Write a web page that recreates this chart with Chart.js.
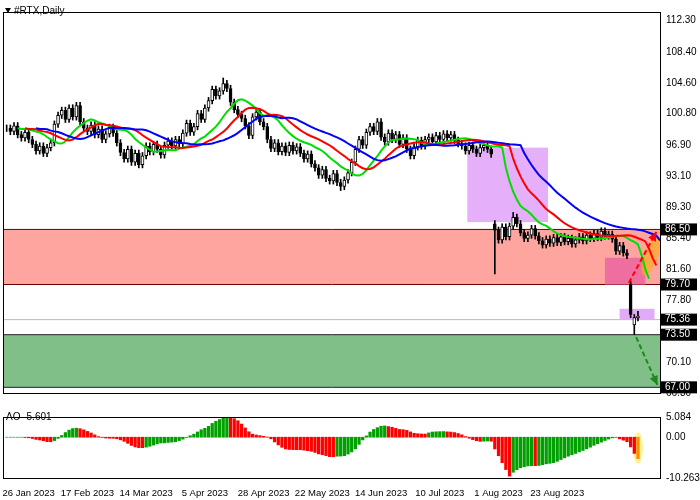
<!DOCTYPE html>
<html><head><meta charset="utf-8">
<script src="https://cdn.jsdelivr.net/npm/chart.js@4/dist/chart.umd.min.js"></script>
<style>body{margin:0;background:#fff;width:700px;height:500px;overflow:hidden;font-family:"Liberation Sans",Arial}
#m{position:absolute;left:0;top:0;width:700px;height:405px}#a{position:absolute;left:0;top:405px;width:700px;height:95px}</style>
</head><body>
<div id="m"><canvas id="c1"></canvas></div><div id="a"><canvas id="c2"></canvas></div>
<script>
const closes=[99.0,98.6,99.3,98.2,97.8,98.5,97.6,
97.0,96.2,96.8,95.9,96.6,97.2,
99.5,100.6,101.2,100.1,101.5,100.4,101.8,
99.8,99.0,98.6,99.4,98.2,98.9,
97.6,98.3,99.1,98.4,97.2,
96.0,95.2,96.4,94.8,95.9,94.5,95.6,96.8,
96.1,97.0,96.4,95.7,96.9,97.4,
96.8,97.6,97.1,98.4,99.6,98.5,
99.2,100.8,100.1,101.5,102.4,103.8,103.0,
103.6,104.5,103.9,102.2,101.3,
100.7,100.2,99.3,98.1,100.4,
101.0,99.8,99.2,97.6,96.5,97.2,
96.1,96.8,96.0,96.9,96.2,96.7,95.9,
95.2,95.8,94.6,94.1,93.2,93.9,92.8,92.5,
93.4,92.3,91.8,92.6,93.5,
94.8,96.4,97.6,96.9,98.5,99.2,98.6,
99.8,97.9,97.3,98.4,97.6,98.2,97.0,
97.8,96.4,95.6,96.7,97.5,96.8,97.6,
97.9,97.3,98.1,97.6,98.3,97.8,98.2,97.5,
97.1,96.8,96.2,96.9,96.4,95.9,96.6,96.9,
96.4,95.8,86.4,85.2,86.8,
85.6,86.9,88.0,87.2,86.1,85.4,85.8,
86.6,85.7,85.1,84.6,85.3,84.8,85.5,84.9,
85.6,85.0,85.4,84.7,85.2,85.6,85.1,85.8,
85.4,86.0,85.5,86.3,85.7,85.9,85.3,
83.8,84.5,83.6,83.3,
76.0,75.6,75.8];
const openOverrides={133:87.2,170:79.7,171:74.7};
const highOverrides={59:105.2,138:88.6,172:76.4};
const lowOverrides={133:81.0,91:91.3,171:73.5};
const dateLabels=["26 Jan 2023","17 Feb 2023","14 Mar 2023","5 Apr 2023","28 Apr 2023","22 May 2023","14 Jun 2023","10 Jul 2023","1 Aug 2023","23 Aug 2023"];
const datePos=[6,22,38,54,70,86,102,118,134,150];
const priceTicks=[112.30,108.40,104.60,100.80,96.90,93.10,89.30,85.40,81.60,77.80,70.10,66.30];
const levelBoxes=[86.50,79.70,75.36,73.50,67.00];
const aoTicks=[5.084,0,-10.263];
const aoLabel="AO -5.601";

const N=closes.length;
const O=[],H=[],L=[];
for(let i=0;i<N;i++){const o=openOverrides[i]!==undefined?openOverrides[i]:(i?closes[i-1]:closes[0]);O.push(o);
H.push(highOverrides[i]!==undefined?highOverrides[i]:Math.max(o,closes[i])+0.4);
L.push(lowOverrides[i]!==undefined?lowOverrides[i]:Math.min(o,closes[i])-0.4);}
const med=closes.map((c,i)=>(H[i]+L[i])/2);
function smma(n){const r=[];let p=null;for(let i=0;i<N;i++){if(i<n){const s=med.slice(0,i+1);p=s.reduce((a,b)=>a+b)/s.length;}else p=(p*(n-1)+med[i])/n;r.push(p);}return r;}
function sma(n,i){const s=med.slice(Math.max(0,i-n+1),i+1);return s.reduce((a,b)=>a+b)/s.length;}
const jaw=smma(13),teeth=smma(8),lips=smma(5);
const ao=med.map((_,i)=>sma(5,i)-sma(34,i));
const XMIN=-1,XMAX=178;
const wick=[],body=[],bodyCol=[];
for(let i=0;i<N;i++){wick.push({x:i,y:[L[i],H[i]]});body.push({x:i,y:[Math.min(O[i],closes[i]),Math.max(O[i],closes[i])]});bodyCol.push(closes[i]>=O[i]?'#fff':'#000');}
const line=(arr,sh,col)=>({type:'line',data:arr.map((v,i)=>({x:i+sh,y:v})),borderColor:col,borderWidth:2,pointRadius:0,order:0});
const yfont={family:'"Liberation Sans",Arial',size:10};
const xfont={family:'"Liberation Sans",Arial',size:9.5};

const frame={id:'frame',afterDraw(ch){const a=ch.chartArea,c=ch.ctx;c.save();c.strokeStyle='#000';c.lineWidth=1;c.strokeRect(a.left+.5,a.top+.5,a.width,a.height);c.restore();}};
const zones={id:'zones',beforeDatasetsDraw(ch){const c=ch.ctx,x=ch.scales.x,y=ch.scales.y,a=ch.chartArea;c.save();
 const rect=(x0,x1,p0,p1,f)=>{c.fillStyle=f;c.fillRect(x0,y.getPixelForValue(p1),x1-x0,y.getPixelForValue(p0)-y.getPixelForValue(p1));};
 rect(a.left,a.right,79.7,86.5,'rgb(255,165,160)');
 rect(a.left,a.right,67.0,73.5,'rgb(128,192,136)');
 c.strokeStyle='#600';c.lineWidth=1;[79.7,86.5].forEach(v=>{c.beginPath();c.moveTo(a.left,y.getPixelForValue(v));c.lineTo(a.right,y.getPixelForValue(v));c.stroke();});
 c.strokeStyle='#222';[67.0,73.5].forEach(v=>{c.beginPath();c.moveTo(a.left,y.getPixelForValue(v));c.lineTo(a.right,y.getPixelForValue(v));c.stroke();});
 c.strokeStyle='#bbb';c.beginPath();c.moveTo(a.left,y.getPixelForValue(75.36));c.lineTo(a.right,y.getPixelForValue(75.36));c.stroke();
 rect(x.getPixelForValue(125.5),x.getPixelForValue(147.5),87.4,96.6,'rgb(230,175,250)');
 rect(x.getPixelForValue(163),x.getPixelForValue(174),79.7,83.0,'rgb(238,110,160)');
 rect(x.getPixelForValue(167),x.getPixelForValue(176.5),75.4,76.7,'rgb(225,170,250)');
 c.fillStyle='rgba(255,170,40,0.75)';c.beginPath();c.ellipse(x.getPixelForValue(175.5),y.getPixelForValue(83.2),7,20,0.35,0,Math.PI*2);c.fill();
 c.restore();},
 afterDraw(ch){const c=ch.ctx,x=ch.scales.x,y=ch.scales.y,a=ch.chartArea;c.save();
 const arrow=(x0,p0,x1,p1,col)=>{const X0=x.getPixelForValue(x0),Y0=y.getPixelForValue(p0),X1=x.getPixelForValue(x1),Y1=y.getPixelForValue(p1);
  c.strokeStyle=col;c.fillStyle=col;c.lineWidth=2;c.setLineDash([5,3]);c.beginPath();c.moveTo(X0,Y0);c.lineTo(X1,Y1);c.stroke();c.setLineDash([]);
  const ang=Math.atan2(Y1-Y0,X1-X0);c.beginPath();c.moveTo(X1,Y1);c.lineTo(X1-10*Math.cos(ang-0.45),Y1-10*Math.sin(ang-0.45));c.lineTo(X1-10*Math.cos(ang+0.45),Y1-10*Math.sin(ang+0.45));c.closePath();c.fill();};
 arrow(169.5,79.9,177,86.2,'#f00');arrow(171.5,73.2,177.3,67.3,'#1a8a1a');
 c.font='10px "Liberation Sans",Arial';c.textBaseline='middle';
 levelBoxes.forEach(v=>{const py=y.getPixelForValue(v);c.fillStyle='#000';c.fillRect(a.right+1,py-6,36,12);c.fillStyle='#fff';c.fillText(v.toFixed(2),a.right+5,py);});
 c.fillStyle='#000';c.beginPath();c.moveTo(5,8);c.lineTo(11,8);c.lineTo(8,13);c.closePath();c.fill();
 c.fillText('#RTX,Daily',14,11);
 c.restore();}};

const yGrid={display:false,drawTicks:false,tickLength:0};
new Chart(document.getElementById('c1'),{type:'bar',data:{datasets:[
 line(jaw,8,'#0000ff'),line(teeth,5,'#ff0000'),line(lips,3,'#00dd00'),
 {data:wick,backgroundColor:'#000',barThickness:1,grouped:false,order:2},
 {data:body,backgroundColor:bodyCol,borderColor:'#000',borderWidth:1,borderSkipped:false,barThickness:3,grouped:false,order:1}
]},plugins:[zones,frame],options:{animation:false,responsive:true,maintainAspectRatio:false,
 layout:{padding:{left:3,top:3,bottom:0,right:0}},plugins:{legend:{display:false},tooltip:{enabled:false}},
 scales:{x:{type:'linear',offset:false,min:XMIN,max:XMAX,display:false},
 y:{position:'right',min:66.3,max:113.35,grid:yGrid,border:{display:false},afterFit(s){s.width=40;},
  afterBuildTicks(s){s.ticks=priceTicks.map(v=>({value:v}));},
  ticks:{font:yfont,color:'#000',padding:6,callback:v=>v.toFixed(2)}}}}});

const aoCol=ao.map((v,i)=>i===N-1?'#ff8c00':(i>0&&v<ao[i-1]?'#ff0000':'#00a000'));
const aoPlug={id:'aop',beforeDatasetsDraw(ch){const c=ch.ctx,x=ch.scales.x,y=ch.scales.y;c.save();c.fillStyle='rgba(255,240,120,0.8)';c.beginPath();
 c.ellipse(x.getPixelForValue(N-1),y.getPixelForValue(ao[N-1]/2),5,Math.abs(y.getPixelForValue(ao[N-1])-y.getPixelForValue(0))/2+5,0,0,Math.PI*2);c.fill();c.restore();},
 afterDraw(ch){const c=ch.ctx;c.save();c.font='10px "Liberation Sans",Arial';c.fillStyle='#000';c.textBaseline='middle';c.fillText(aoLabel,6,12);c.restore();}};
new Chart(document.getElementById('c2'),{type:'bar',data:{datasets:[{data:ao.map((v,i)=>({x:i,y:v})),backgroundColor:aoCol,barThickness:2.6}]},
 plugins:[aoPlug,frame],options:{animation:false,responsive:true,maintainAspectRatio:false,
 layout:{padding:{left:3,top:5,bottom:2}},plugins:{legend:{display:false},tooltip:{enabled:false}},
 scales:{x:{type:'linear',offset:false,min:XMIN,max:XMAX,grid:{display:false},border:{display:false},afterFit(s){s.height=20;},
  afterBuildTicks(s){s.ticks=datePos.map(v=>({value:v}));},ticks:{font:xfont,color:'#000',maxRotation:0,autoSkip:false,padding:2,callback:v=>dateLabels[datePos.indexOf(v)]}},
 y:{position:'right',min:-10.263,max:5.084,grid:yGrid,border:{display:false},afterFit(s){s.width=40;},
  afterBuildTicks(s){s.ticks=aoTicks.map(v=>({value:v}));},ticks:{font:yfont,color:'#000',padding:6,callback:v=>v===0?'0.00':v.toFixed(3)}}}}});
</script></body></html>
